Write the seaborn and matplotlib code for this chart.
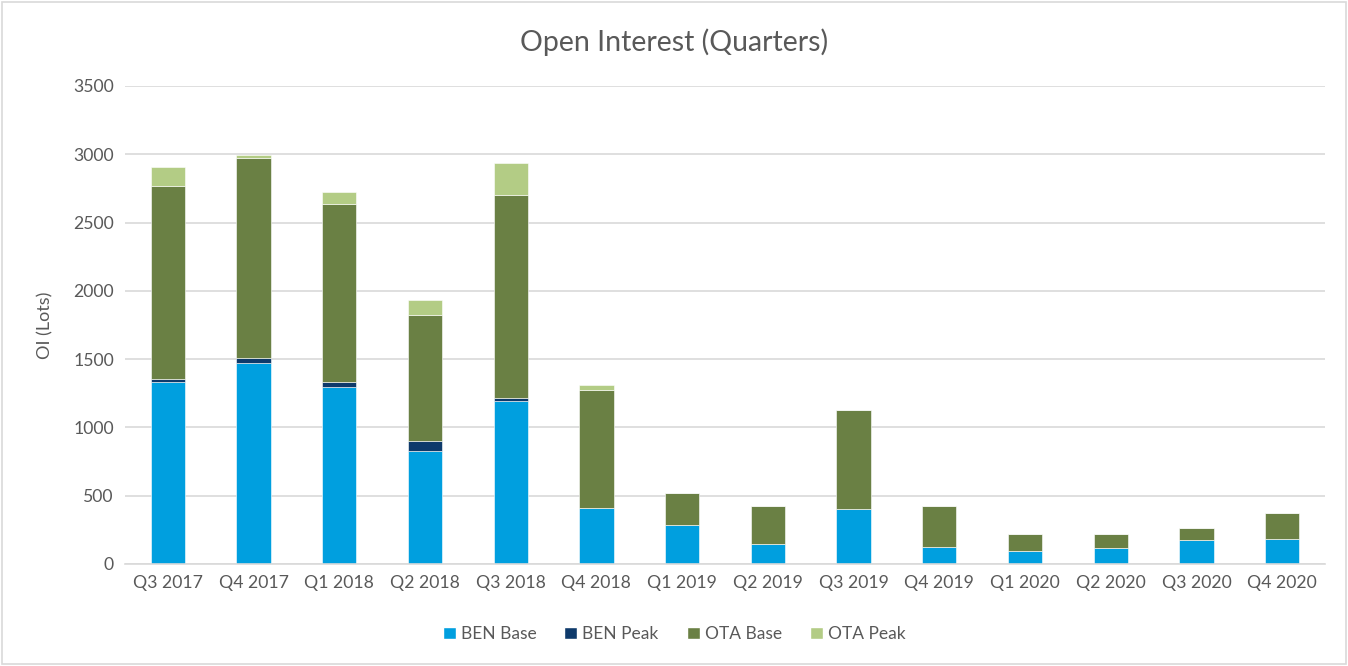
import numpy as np
import pandas as pd
import matplotlib
matplotlib.use("Agg")
import matplotlib.pyplot as plt
import seaborn as sns
from matplotlib.patches import Rectangle, Patch

quarters = ["Q3 2017", "Q4 2017", "Q1 2018", "Q2 2018", "Q3 2018", "Q4 2018", "Q1 2019",
            "Q2 2019", "Q3 2019", "Q4 2019", "Q1 2020", "Q2 2020", "Q3 2020", "Q4 2020"]
ben_base = [1331, 1473, 1294, 830, 1190, 410, 284, 144, 405, 122, 97, 114, 178, 183]
ben_peak = [25, 37, 37, 69, 24, 0, 0, 0, 0, 0, 0, 0, 0, 0]
ota_base = [1412, 1463, 1308, 923, 1486, 865, 239, 283, 722, 301, 120, 106, 86, 189]
ota_peak = [142, 22, 85, 113, 237, 37, 0, 0, 0, 0, 0, 0, 0, 0]

series_names = ["BEN Base", "BEN Peak", "OTA Base", "OTA Peak"]
series_vals = [ben_base, ben_peak, ota_base, ota_peak]
colors = ["#009FDF", "#0E3A6B", "#6A8044", "#B3CC85"]

sns.set_theme(style="white")
plt.rcParams['font.family'] = ['Lato', 'DejaVu Sans']
text_color = "#595959"

fig = plt.figure(figsize=(13.48, 6.66), dpi=100)
ax = fig.add_axes([125/1348, 102/666, 1200/1348, 478/666])

bottom = np.zeros(len(quarters))
for name, vals, col in zip(series_names, series_vals, colors):
    df = pd.DataFrame({"Quarter": quarters, "OI": vals})
    sns.barplot(data=df, x="Quarter", y="OI", color=col, bottom=bottom, width=0.4,
                ax=ax, saturation=1, edgecolor="white", linewidth=0.4)
    bottom = bottom + np.array(vals)

ax.set_ylim(0, 3500)
ax.set_xlim(-0.5, len(quarters) - 0.5)
ax.set_yticks(np.arange(0, 3501, 500))
ax.yaxis.grid(True, color="#D9D9D9", linewidth=1.2)
ax.set_axisbelow(True)
for s in ["top", "right", "left"]:
    ax.spines[s].set_visible(False)
ax.spines["bottom"].set_color("#D9D9D9")
ax.spines["bottom"].set_linewidth(1.2)
ax.tick_params(axis="both", colors=text_color, labelsize=12.7, length=0, pad=8)
ax.set_xlabel("")
ax.set_ylabel("OI (Lots)", color=text_color, fontsize=13, labelpad=14)

fig.text(0.5, 1 - 42/666, "Open Interest (Quarters)", ha="center", va="center",
         fontsize=20.5, color=text_color)

handles = [Patch(facecolor=c, label=n) for n, c in zip(series_names, colors)]
fig.legend(handles=handles, loc="center", bbox_to_anchor=(0.5, 1 - 634/666), ncol=4,
           frameon=False, fontsize=12.5, handlelength=0.75, handleheight=0.75,
           handletextpad=0.3, columnspacing=1.6, labelcolor=text_color)

fig.patches.append(Rectangle((2/1348, 2/666), 1 - 4/1348, 1 - 4/666, transform=fig.transFigure,
                             fill=False, edgecolor="#D9D9D9", linewidth=1.2))

fig.savefig("out.png", dpi=100)
